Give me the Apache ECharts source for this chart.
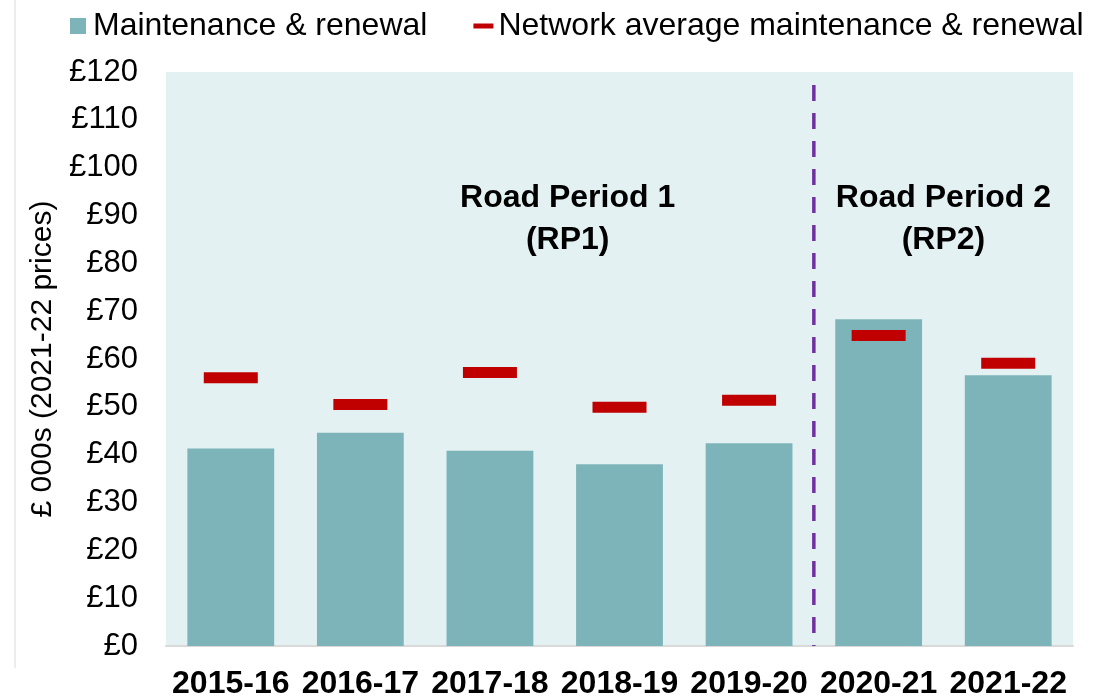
<!DOCTYPE html>
<html>
<head>
<meta charset="utf-8">
<script src="https://cdn.jsdelivr.net/npm/echarts@6/dist/echarts.min.js"></script>
<style>
  html, body { margin: 0; padding: 0; background: #fff; }
  #main { width: 1094px; height: 700px; }
</style>
</head>
<body>
<div id="main"></div>
<script>
// data
var years = ['2015-16', '2016-17', '2017-18', '2018-19', '2019-20', '2020-21', '2021-22'];
var maintenance = [41.3, 44.6, 40.8, 38.0, 42.4, 68.3, 56.6];
var networkAvg = [56.1, 50.5, 57.2, 49.9, 51.4, 64.9, 59.1];
var yTicks = [0, 10, 20, 30, 40, 50, 60, 70, 80, 90, 100, 110, 120];

var FONT = '"Liberation Sans", Arial, sans-serif';

var chart = echarts.init(document.getElementById('main'));

chart.setOption({
	animation: false,
	textStyle: { fontFamily: FONT, color: '#000' },
	graphic: [{
		type: 'line',
		shape: { x1: 15, y1: 0, x2: 15, y2: 668 },
		style: { stroke: '#d9d9d9', lineWidth: 1 }
	}],
	legend: {
		left: 70,
		right: 0,
		top: 10,
		padding: 0,
		itemGap: 46,
		itemWidth: 20,
		itemHeight: 16,
		textStyle: { fontSize: 32, color: '#000', fontFamily: FONT },
		data: [
			{ name: 'Maintenance & renewal', icon: 'path://M0,0h16v16h-16z' },
			{ name: 'Network average maintenance & renewal', icon: 'path://M0,0h20v5h-20z' }
		]
	},
	grid: {
		left: 166,
		right: 21,
		top: 72,
		bottom: 52,
		show: true,
		backgroundColor: '#e3f1f2',
		borderWidth: 0
	},
	xAxis: [{
		type: 'category',
		data: years,
		axisTick: { show: false },
		axisLine: { lineStyle: { color: '#d9d9d9', width: 2 } },
		axisLabel: {
			fontSize: 32,
			fontWeight: 'bold',
			color: '#000',
			margin: 22,
			interval: 0
		}
	}, {
		// hidden helper axis for the period divider and labels
		type: 'value',
		min: 0,
		max: 7,
		show: false
	}],
	yAxis: {
		type: 'value',
		min: yTicks[0],
		max: yTicks[yTicks.length - 1],
		interval: 10,
		name: '£ 000s (2021-22 prices)',
		nameLocation: 'middle',
		nameGap: 108,
		nameTextStyle: { fontSize: 30, color: '#000' },
		splitLine: { show: false },
		axisLine: { show: false },
		axisTick: { show: false },
		axisLabel: {
			fontSize: 31,
			color: '#000',
			margin: 28,
			formatter: function (v) { return '£' + v; }
		}
	},
	series: [{
		name: 'Maintenance & renewal',
		type: 'bar',
		data: maintenance,
		barCategoryGap: '33%',
		itemStyle: { color: '#7db4b9' },
		z: 2
	}, {
		name: 'Network average maintenance & renewal',
		type: 'scatter',
		data: networkAvg,
		symbol: 'rect',
		symbolSize: [54, 11],
		itemStyle: { color: '#c00000', opacity: 1 },
		z: 4
	}, {
		name: 'divider',
		type: 'line',
		xAxisIndex: 1,
		data: [[5, 117.3], [5, 0]],
		symbol: 'none',
		lineStyle: { color: '#7030a0', width: 3.5, type: [16, 12] },
		z: 3
	}, {
		name: 'periods',
		type: 'scatter',
		xAxisIndex: 1,
		symbolSize: 0,
		itemStyle: { opacity: 1 },
		data: [
			{ value: [3.1, 89.2], label: { formatter: 'Road Period 1\n(RP1)' } },
			{ value: [6.0, 89.2], label: { formatter: 'Road Period 2\n(RP2)' } }
		],
		label: {
			show: true,
			position: 'inside',
			fontSize: 32,
			fontWeight: 'bold',
			color: '#000',
			lineHeight: 42,
			align: 'center'
		},
		z: 5
	}]
});
</script>
</body>
</html>
